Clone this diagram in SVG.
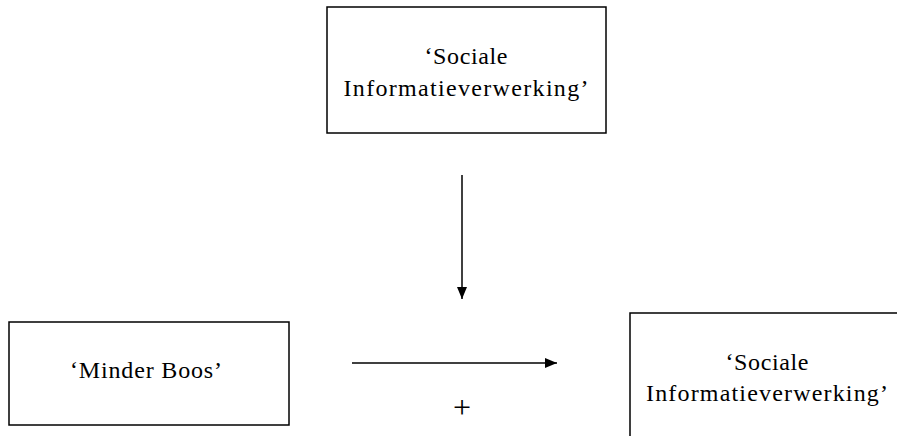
<svg xmlns="http://www.w3.org/2000/svg" width="897" height="436" viewBox="0 0 897 436">
<style>
.box{fill:#fff;stroke:#000;stroke-width:1.5}
.t{font-family:"Liberation Serif","Times New Roman",serif;font-size:24px;fill:#000;text-anchor:middle}
.plus{font-family:"Liberation Serif","Times New Roman",serif;font-size:32px;fill:#000;text-anchor:middle}
.c{stroke:#000;stroke-width:1.5;fill:none}
</style>
<defs>
<marker id="ah" markerWidth="12" markerHeight="10" refX="12" refY="5" orient="auto" markerUnits="userSpaceOnUse">
<path d="M0,0 L12,5 L0,10 Z" fill="#000"/>
</marker>
</defs>
<rect width="897" height="436" fill="#fff"/>
<g id="node-top">
<rect class="box" x="327" y="7" width="279" height="126"/>
<text class="t" x="466" y="64" textLength="83" lengthAdjust="spacing">‘Sociale</text>
<text class="t" x="466" y="96" textLength="245" lengthAdjust="spacing">Informatieverwerking’</text>
</g>
<g id="node-left">
<rect class="box" x="9" y="322" width="280" height="103"/>
<text class="t" x="146" y="378" textLength="152" lengthAdjust="spacing">‘Minder Boos’</text>
</g>
<g id="node-right">
<rect class="box" x="630" y="313" width="280" height="140"/>
<text class="t" x="767" y="370" textLength="83" lengthAdjust="spacing">‘Sociale</text>
<text class="t" x="767" y="401" textLength="242" lengthAdjust="spacing">Informatieverwerking’</text>
</g>
<g id="connectors">
<line class="c" x1="462" y1="175" x2="462" y2="299" marker-end="url(#ah)"/>
<line class="c" x1="352" y1="363" x2="557" y2="363" marker-end="url(#ah)"/>
<text class="plus" x="462" y="418">+</text>
</g>
</svg>
